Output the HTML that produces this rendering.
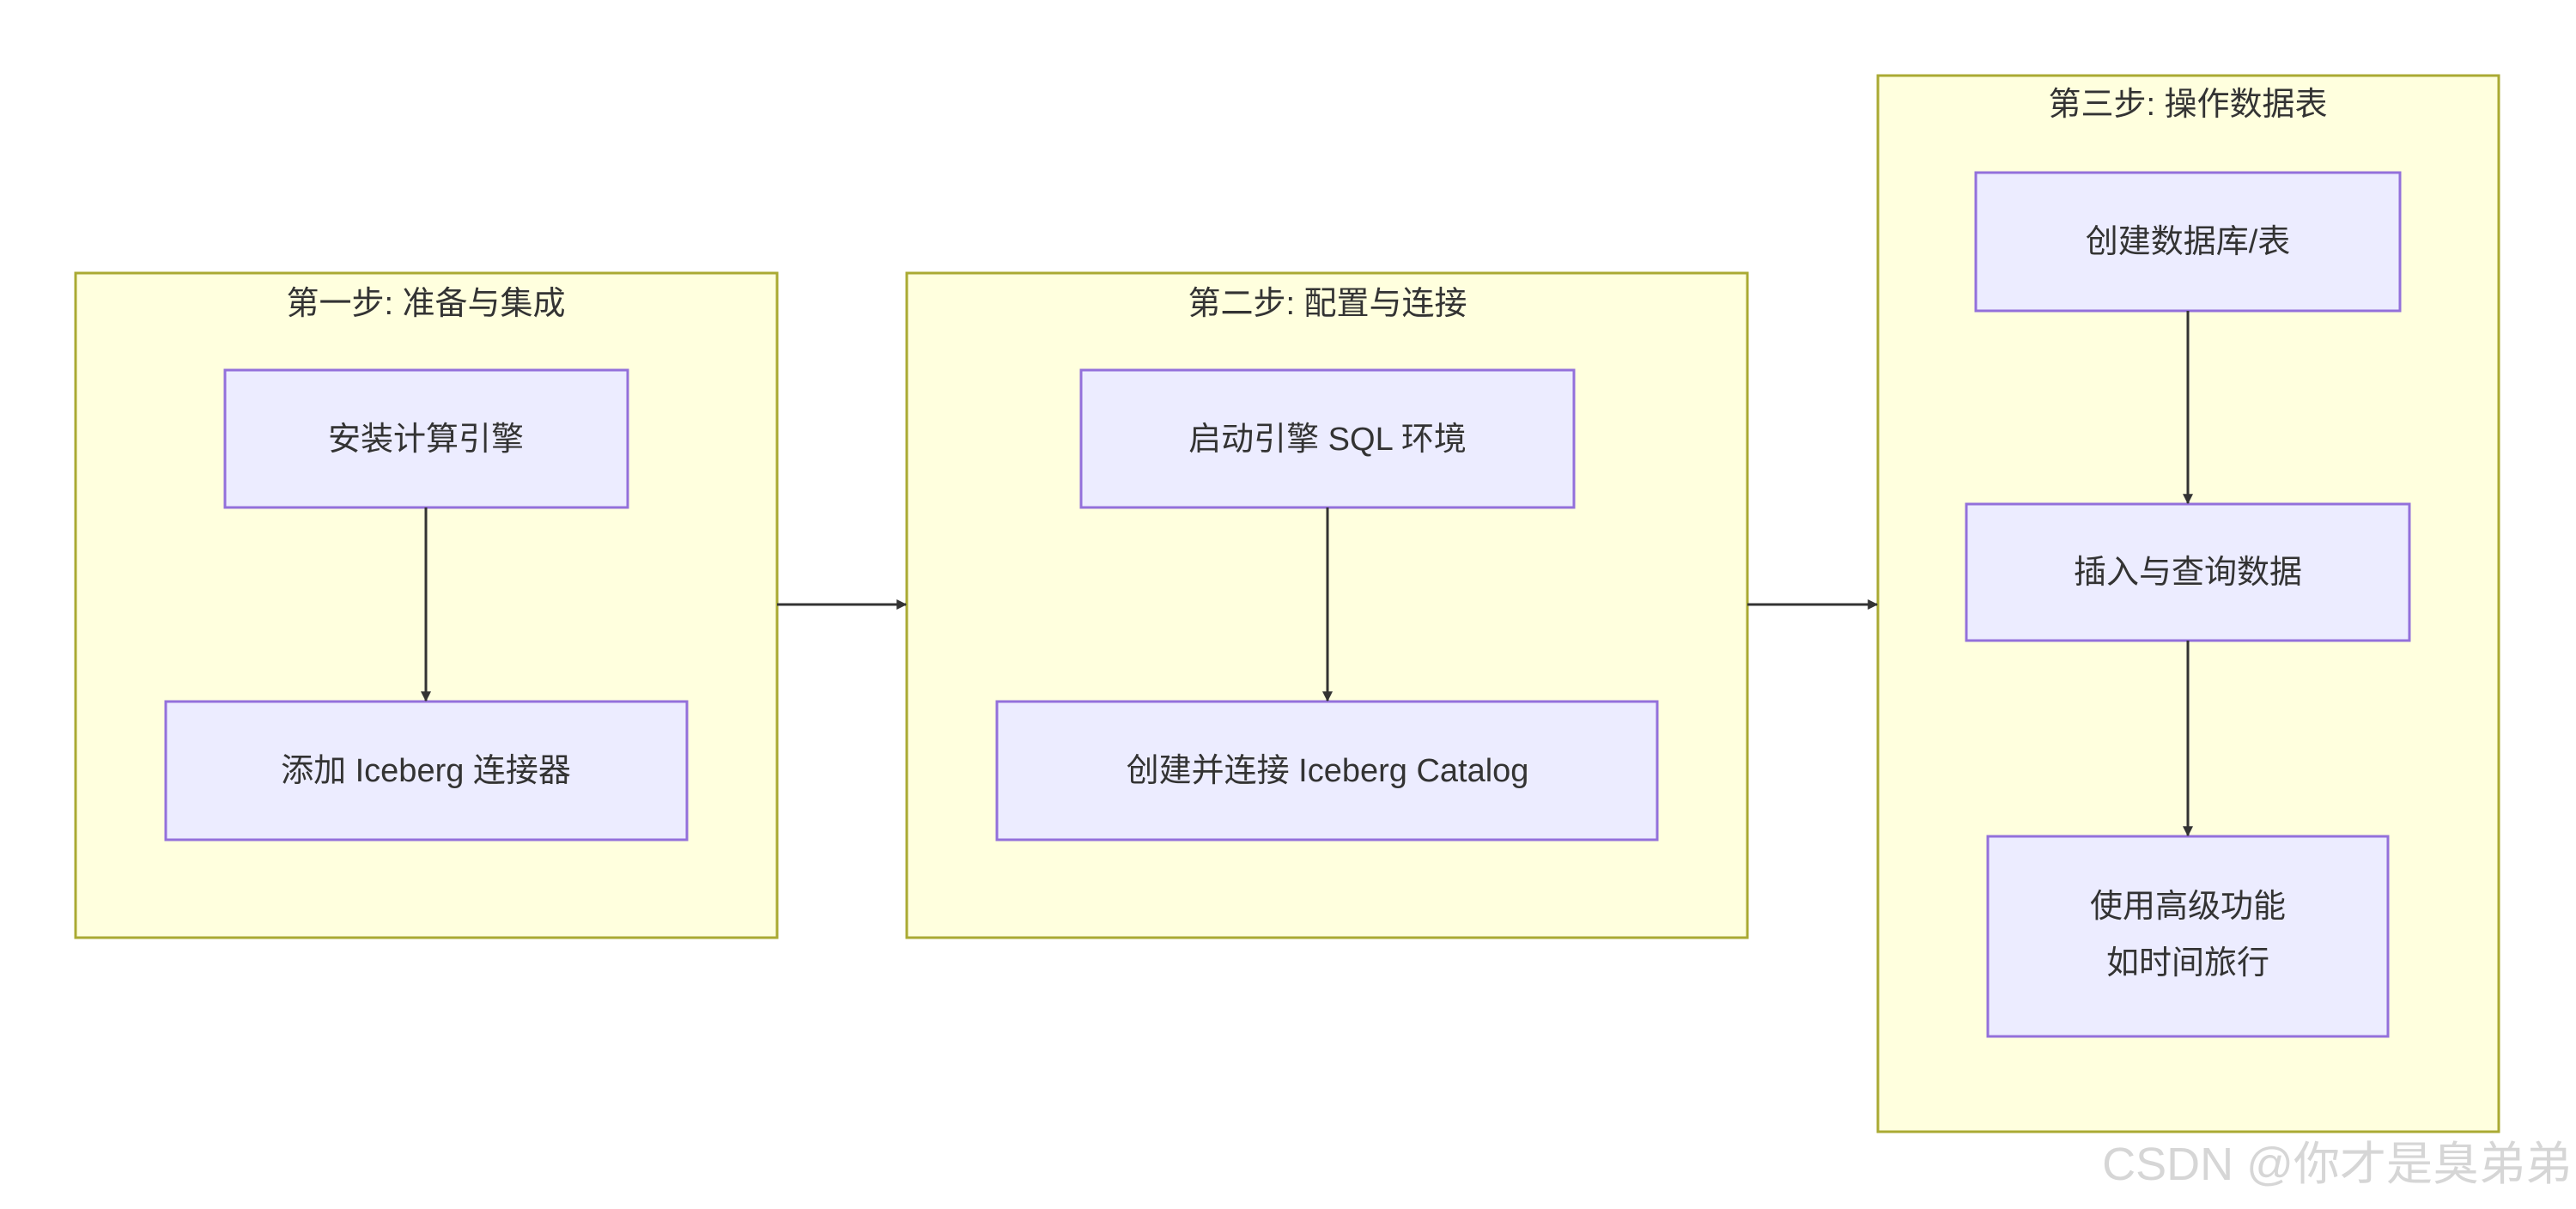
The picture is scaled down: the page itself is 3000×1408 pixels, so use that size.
<!DOCTYPE html>
<html><head><meta charset="utf-8"><style>
html,body{margin:0;padding:0;background:#fff;}
svg{display:block;}
text{font-family:"Liberation Sans","Noto Sans CJK SC",sans-serif;fill:#333;}
</style></head><body>
<svg width="3000" height="1408" viewBox="0 0 3000 1408" xmlns="http://www.w3.org/2000/svg">
<defs>
<marker id="ah" viewBox="0 0 10 10" refX="9" refY="5" markerWidth="12" markerHeight="12" markerUnits="userSpaceOnUse" orient="auto">
<path d="M0,0 L10,5 L0,10 z" fill="#333"/>
</marker>
</defs>
<g fill="#ffffde" stroke="#aaaa33" stroke-width="3">
<rect x="88" y="318" width="817" height="774"/>
<rect x="1056" y="318" width="979" height="774"/>
<rect x="2187" y="88" width="723" height="1230"/>
</g>
<g font-size="38" text-anchor="middle">
<text x="496" y="366">第一步: 准备与集成</text>
<text x="1546" y="366">第二步: 配置与连接</text>
<text x="2548" y="134">第三步: 操作数据表</text>
</g>
<g fill="#ececff" stroke="#9370db" stroke-width="3">
<rect x="262" y="431" width="469" height="160"/>
<rect x="193" y="817" width="607" height="161"/>
<rect x="1259" y="431" width="574" height="160"/>
<rect x="1161" y="817" width="769" height="161"/>
<rect x="2301" y="201" width="494" height="161"/>
<rect x="2290" y="587" width="516" height="159"/>
<rect x="2315" y="974" width="466" height="233"/>
</g>
<g stroke="#333" stroke-width="3" fill="none" marker-end="url(#ah)">
<line x1="496" y1="591" x2="496" y2="816"/>
<line x1="1546" y1="591" x2="1546" y2="816"/>
<line x1="2548" y1="362" x2="2548" y2="586"/>
<line x1="2548" y1="746" x2="2548" y2="973"/>
<line x1="905" y1="704" x2="1055" y2="704"/>
<line x1="2035" y1="704" x2="2186" y2="704"/>
</g>
<g font-size="38" text-anchor="middle">
<text x="496" y="524">安装计算引擎</text>
<text x="496" y="910">添加 Iceberg 连接器</text>
<text x="1546" y="524">启动引擎 SQL 环境</text>
<text x="1546" y="910">创建并连接 Iceberg Catalog</text>
<text x="2548" y="294">创建数据库/表</text>
<text x="2548" y="679">插入与查询数据</text>
<text x="2548" y="1068">使用高级功能</text>
<text x="2548" y="1134">如时间旅行</text>
</g>
<text x="2995" y="1374" font-size="54" text-anchor="end" style="fill:#d6d6d6">CSDN @你才是臭弟弟</text>
</svg>
</body></html>
